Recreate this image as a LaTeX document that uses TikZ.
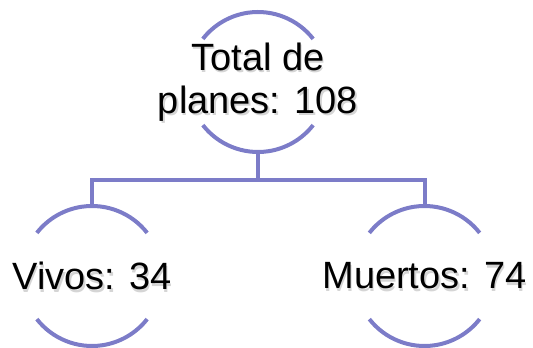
\documentclass[tikz,border=0pt]{standalone}
\usepackage{fontspec}
\setmainfont{Liberation Sans}
\definecolor{arccol}{RGB}{124,124,200}
\tikzset{
  arcline/.style={draw=arccol, line width=4pt},
  conn/.style={draw=arccol, line width=4pt, line join=miter},
  lbl/.style={align=center, inner sep=0pt, font=\fontsize{38}{43}\selectfont, text=black},
  shadowlbl/.style={lbl, text=black!55, opacity=0.3}
}
\begin{document}
\begin{tikzpicture}[x=1pt,y=1pt]
\useasboundingbox (0,0) rectangle (533,348);
% shadows
\node[shadowlbl] (tops) at (259.5,263.5) {Total de\\planes: 108};
\node[shadowlbl] (lefts) at (93.5,69.5) {Vivos: 34};
\node[shadowlbl] (rights) at (426,69.5) {Muertos: 74};
% labels
\node[lbl] (top) at (258,266) {Total de\\planes: 108};
\node[lbl] (left) at (92,72) {Vivos: 34};
\node[lbl] (right) at (424.5,72) {Muertos: 74};
% arcs
\foreach \n in {top,left,right}{
  \draw[arcline] (\n.center) ++(38:70) arc[start angle=38, end angle=142, radius=70];
  \draw[arcline] (\n.center) ++(218:70) arc[start angle=218, end angle=322, radius=70];
}
% connectors
\coordinate (tb) at ([yshift=-70pt]top.center);
\coordinate (lt) at ([yshift=70pt]left.center);
\coordinate (rt) at ([yshift=70pt]right.center);
\coordinate (j) at (258,168);
\draw[conn] (tb) -- (j);
\draw[conn] (lt) |- (j) -| (rt);
\end{tikzpicture}
\end{document}
